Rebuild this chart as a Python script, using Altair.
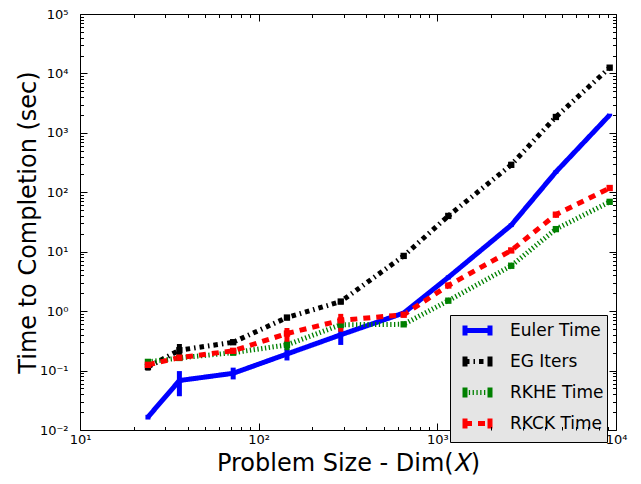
import altair as alt
import pandas as pd

# ---------------- data ----------------
dims = [24, 36, 72, 144, 288, 648, 1152, 2592, 4608, 9216]
series_names = ["Euler Time", "EG Iters", "RKHE Time", "RKCK Time"]
series_colors = ["#0000ff", "#000000", "#008000", "#ff0000"]

euler_time = [0.0165, 0.068, 0.09, 0.19, 0.40, 0.93, 3.7, 28, 220, 2000]
euler_lo = [0.015, 0.037, 0.071, 0.148, 0.27, 0.86, 3.4, 26, 205, 1900]
euler_hi = [0.018, 0.098, 0.112, 0.235, 0.60, 1.0, 4.0, 30, 235, 2100]

eg_iters = [0.115, 0.22, 0.30, 0.78, 1.45, 8.5, 40, 290, 1850, 12500]
eg_lo = [0.10, 0.18, 0.27, 0.70, 1.3, 7.8, 37, 275, 1780, 12000]
eg_hi = [0.13, 0.28, 0.33, 0.86, 1.6, 9.3, 44, 305, 1920, 13000]

rkhe_time = [0.14, 0.163, 0.20, 0.27, 0.59, 0.60, 1.5, 5.8, 24, 69]
rkhe_lo = [0.13, 0.155, 0.19, 0.22, 0.50, 0.57, 1.4, 5.5, 23, 66]
rkhe_hi = [0.15, 0.17, 0.21, 0.32, 0.70, 0.63, 1.6, 6.1, 25, 72]

rkck_time = [0.125, 0.165, 0.215, 0.42, 0.70, 0.87, 2.7, 10.5, 42, 118]
rkck_lo = [0.12, 0.16, 0.21, 0.25, 0.45, 0.84, 2.5, 10, 40, 113]
rkck_hi = [0.13, 0.17, 0.22, 0.52, 0.90, 0.90, 2.9, 11, 44, 123]

x_major = [10, 100, 1000, 10000]
y_major = [0.01, 0.1, 1, 10, 100, 1000, 10000, 100000]
minor_mult = [2, 3, 4, 5, 6, 7, 8, 9]
x_ticks = x_major + [m * d for d in x_major[:-1] for m in minor_mult]
y_ticks = y_major + [m * d for d in y_major[:-1] for m in minor_mult]
exp_labels = ["10\u207b\u00b2", "10\u207b\u00b9", "10\u2070", "10\u00b9",
              "10\u00b2", "10\u00b3", "10\u2074", "10\u2075"]

# ---------------- table ----------------
values = [euler_time, eg_iters, rkhe_time, rkck_time]
los = [euler_lo, eg_lo, rkhe_lo, rkck_lo]
his = [euler_hi, eg_hi, rkhe_hi, rkck_hi]
rows = []
for name, v, lo, hi in zip(series_names, values, los, his):
    for d, t, l, h in zip(dims, v, lo, hi):
        rows.append({"series": name, "dim": d, "time": t, "lo": l, "hi": h})
df = pd.DataFrame(rows)

W, H = 536, 416
FONT = "DejaVu Sans"

x_scale = alt.Scale(type="log", domain=[10, 10000], nice=False)
y_scale = alt.Scale(type="log", domain=[0.01, 100000], nice=False)
color_scale = alt.Scale(domain=series_names, range=series_colors)
dash_scale = alt.Scale(domain=series_names,
                       range=[[1, 0], [4.5, 4, 1.5, 4], [1.3, 2.5], [7, 6]])

label_expr = "[" + ",".join("'%s'" % s for s in exp_labels) + "][round(log(datum.value)/LN10)+2]"
major_test = "abs(log(datum.value)/LN10 - round(log(datum.value)/LN10)) < 0.000001"
tick_size = {"condition": {"test": major_test, "value": 7}, "value": 3.5}


def tick_axis(orient, offset, vals):
    return alt.Axis(orient=orient, offset=offset, values=vals, labels=False,
                    domain=False, grid=False, ticks=True, tickSize=tick_size,
                    tickColor="black", tickWidth=1, title=None, zindex=1)


# legend glyph: errorbar "H" -- end bars made of many tiny sub-paths so the
# dash pattern (restarting on every sub-path) keeps them solid
BAR_H = 0.5
BAR_X = 1.25


def bar_path(xc):
    parts = []
    y = -BAR_H
    while y < BAR_H - 0.04:
        parts.append("M%.3f,%.3fL%.3f,%.3f" % (xc, y, xc, min(y + 0.12, BAR_H)))
        y += 0.11
    return "".join(parts)


h_symbol = bar_path(-BAR_X) + "M%.3f,0L%.3f,0" % (-BAR_X, BAR_X) + bar_path(BAR_X)

x_label_axis = alt.Axis(orient="bottom", values=x_major, labelExpr=label_expr,
                        ticks=False, tickSize=0, domain=False, grid=False,
                        labelFont=FONT, labelFontSize=13, labelColor="black",
                        labelPadding=3, labelFlush=False, labelOverlap=False,
                        title="Problem Size - Dim(\U0001D44B)", titleFont=FONT,
                        titleFontSize=24, titleFontWeight="normal", titleColor="black",
                        titleX=W / 2, titleY=40, titleBaseline="alphabetic")
y_label_axis = alt.Axis(orient="left", values=y_major, labelExpr=label_expr,
                        ticks=False, tickSize=0, domain=False, grid=False,
                        labelFont=FONT, labelFontSize=13, labelColor="black",
                        labelPadding=12, labelFlush=False, labelOverlap=False,
                        title="Time to Completion (sec)", titleFont=FONT,
                        titleFontSize=24, titleFontWeight="normal", titleColor="black",
                        titleX=-45, titleY=H / 2, titleBaseline="alphabetic")

legend_a = alt.Legend(title=None, orient="none", legendX=370, legendY=301,
                      symbolType=h_symbol, symbolSize=400, symbolStrokeWidth=5,
                      labelFont=FONT, labelFontSize=17, labelColor="black",
                      labelOffset=20, symbolOffset=12, padding=3, rowPadding=0,
                      labelExpr="datum.label + '\u00a0\u00a0'",
                      fillColor="#e5e5e5", strokeColor="black")

base = alt.Chart(df)

lines = base.mark_line(strokeWidth=5, strokeCap="butt").encode(
    x=alt.X("dim:Q", scale=x_scale, axis=x_label_axis),
    y=alt.Y("time:Q", scale=y_scale, axis=y_label_axis),
    color=alt.Color("series:N", scale=color_scale, legend=legend_a),
    strokeDash=alt.StrokeDash("series:N", scale=dash_scale, legend=legend_a),
)

errorbars = base.mark_rule(strokeWidth=5, strokeCap="butt").encode(
    x=alt.X("dim:Q", scale=x_scale, axis=tick_axis("top", -H, x_ticks)),
    y=alt.Y("lo:Q", scale=y_scale, axis=tick_axis("right", -W, y_ticks)),
    y2="hi:Q",
    stroke=alt.Stroke("series:N", scale=color_scale, legend=None),
)

points = base.transform_filter("datum.series != 'Euler Time'").mark_square(
    size=40, opacity=1, filled=True
).encode(
    x=alt.X("dim:Q", scale=x_scale, axis=tick_axis("bottom", -H, x_ticks)),
    y=alt.Y("time:Q", scale=y_scale, axis=tick_axis("left", -W, y_ticks)),
    fill=alt.Fill("series:N", scale=color_scale, legend=None),
)

chart = alt.layer(lines, errorbars, points).resolve_axis(
    x="independent", y="independent"
).properties(
    width=W, height=H,
    autosize=alt.AutoSizeParams(type="none"),
    padding={"left": 72, "top": 6, "right": 17, "bottom": 46},
).configure_view(stroke="black", strokeWidth=1)

chart.save("out.html", embed_options={"renderer": "svg", "actions": False})
